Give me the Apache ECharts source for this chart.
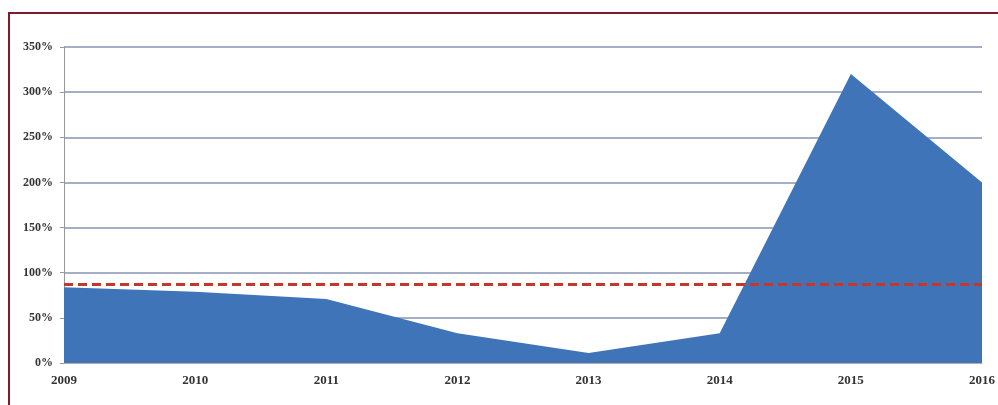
<!DOCTYPE html>
<html><head><meta charset="utf-8">
<script src="https://cdn.jsdelivr.net/npm/echarts@6/dist/echarts.min.js"></script>
<style>
html,body{margin:0;padding:0;background:#fff;}
#frame{position:absolute;left:8px;top:12px;width:992px;height:400px;border-left:2px solid #7a1c2a;border-top:2px solid #7a1c2a;}
#c{position:absolute;left:0;top:0;width:998px;height:405px;}
</style></head>
<body>
<div id="frame"></div>
<div id="c"></div>
<script>
const years = ['2009','2010','2011','2012','2013','2014','2015','2016'];
const values = [84, 79, 71, 33, 11, 33, 320, 200];
const threshold = 87;
const yTicks = [0, 50, 100, 150, 200, 250, 300, 350];

const chart = echarts.init(document.getElementById('c'));
chart.setOption({
  animation: false,
  grid: {left: 64, right: 13, top: 47, bottom: 42},
  xAxis: {
    type: 'category', data: years, boundaryGap: false,
    axisLine: {show: true, lineStyle: {color: '#b0b0b0', width: 1}},
    axisTick: {show: false},
    axisLabel: {color: '#333', fontFamily: 'Liberation Serif', fontWeight: 'bold', fontSize: 13, margin: 11},
    splitLine: {show: false}
  },
  yAxis: {
    type: 'value', min: yTicks[0], max: yTicks[yTicks.length-1], interval: 50,
    axisLine: {show: true, lineStyle: {color: '#999', width: 1}},
    axisTick: {show: true, length: 4, lineStyle: {color: '#999'}},
    axisLabel: {color: '#333', fontFamily: 'Liberation Serif', fontWeight: 'bold', fontSize: 12, margin: 11,
      formatter: v => v + '%'},
    splitLine: {show: true, lineStyle: {color: '#8893b3', width: 1.5}}
  },
  series: [{
    type: 'line', data: values, symbol: 'none',
    lineStyle: {width: 0},
    areaStyle: {color: '#3f74b9', opacity: 1},
    markLine: {
      silent: true, symbol: 'none', label: {show: false},
      lineStyle: {color: '#c0392b', type: [9, 5], width: 3},
      data: [{yAxis: threshold}]
    }
  }]
});
</script>
</body></html>
